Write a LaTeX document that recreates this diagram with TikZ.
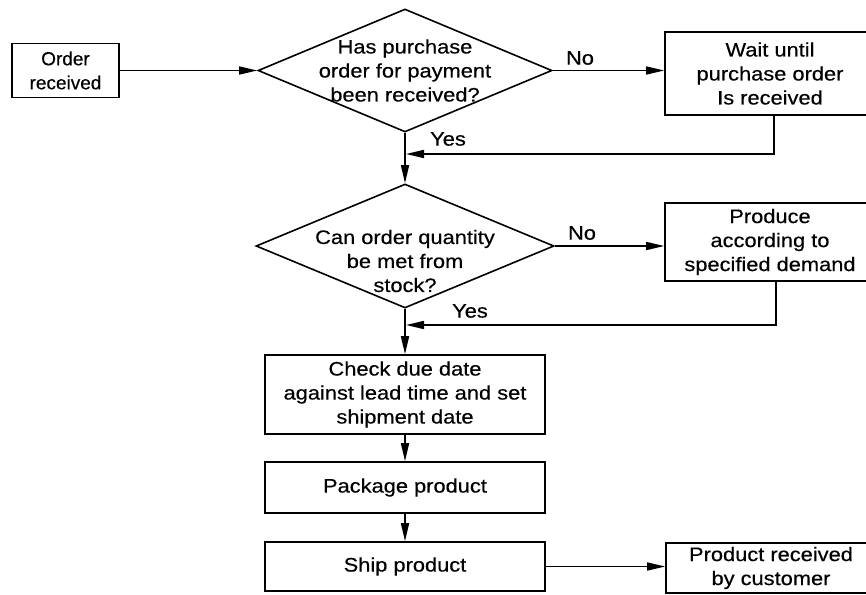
\documentclass[tikz,border=0pt]{standalone}
\usepackage{fontspec}
\setmainfont{Liberation Sans}[FakeStretch=1.12,FakeBold=0.4]
\newfontfamily\narrowsans{Liberation Sans}[FakeBold=0.4]
\usetikzlibrary{shapes.geometric,arrows.meta,calc}
\begin{document}
\begin{tikzpicture}[x=1pt,y=-1pt,
  every node/.style={font=\fontsize{19.5}{24}\selectfont},
  procbox/.style={draw, line width=1.6pt, rectangle, inner sep=0pt, align=center},
  decision/.style={draw, line width=1.6pt, diamond, inner sep=0pt},
  txt/.style={align=center, inner sep=0pt},
  arr/.style={line width=1.6pt, -{Triangle[length=18pt,width=8pt]}}]
\useasboundingbox (0,0) rectangle (866,594);
\fill[white] (0,0) rectangle (866,594);
\clip (0,0) rectangle (866,594);

% process boxes and decisions
\node[procbox, minimum width=107pt, minimum height=54pt,
      font=\fontsize{19}{24}\narrowsans] (order) at (65.5,70.5) {Order\\received};
\node[decision, minimum width=294pt, minimum height=123pt] (d1) at (405,70.5) {};
\node[txt] (d1t) at (d1) {Has purchase\\order for payment\\been received?};
\node[procbox, minimum width=210pt, minimum height=83pt] (wait) at (770,73.5)
  {Wait until\\purchase order\\Is received};

\node[decision, minimum width=298pt, minimum height=124pt] (d2) at (405,246) {};
\node[txt] (d2t) at ($(d2)+(0,15)$) {Can order quantity\\be met from\\stock?};
\node[procbox, minimum width=210pt, minimum height=78pt] (produce) at (770,242)
  {Produce\\according to\\specified demand};

\node[procbox, minimum width=280pt, minimum height=79pt] (check) at (405,394.5)
  {Check due date\\against lead time and set\\shipment date};
\node[procbox, minimum width=280pt, minimum height=51pt] (package) at (405,487.5)
  {Package product};
\node[procbox, minimum width=280pt, minimum height=49pt] (ship) at (405,566.5)
  {Ship product};
\node[procbox, minimum width=210pt, minimum height=50pt] (product) at (771,568)
  {Product received\\by customer};

% branch labels
\node[txt] (no1) at (580,58) {No};
\node[txt] (yes1) at (448,139) {Yes};
\node[txt] (no2) at (582,233) {No};
\node[txt] (yes2) at (470,311) {Yes};

% connectors
\coordinate (m1) at (406,154);
\coordinate (m2) at (406,325);
\draw[arr] (order.east) -- (d1.west);
\draw[arr] (d1.east) -- (d1.east -| wait.west);
\draw[arr] ([xshift=4pt]wait.south) |- (m1);
\draw[arr] (d1.south) -- (d2.north);
\draw[arr] (d2.east) -- (d2.east -| produce.west);
\draw[arr] ([xshift=6pt]produce.south) |- (m2);
\draw[arr] (d2.south) -- (check.north);
\draw[arr] (check.south) -- (package.north);
\draw[arr] (package.south) -- (ship.north);
\draw[arr] (ship.east) -- (ship.east -| product.west);
\end{tikzpicture}
\end{document}
